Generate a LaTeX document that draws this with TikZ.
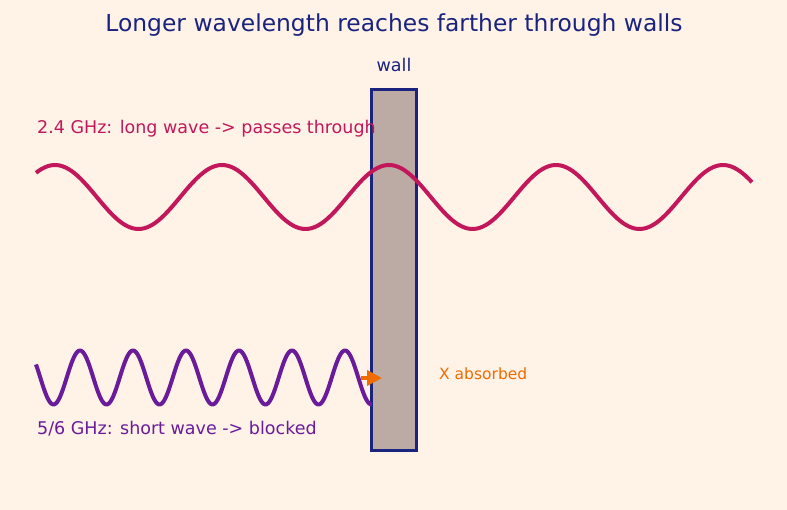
\documentclass[tikz,border=0pt]{standalone}
\usepackage{fontspec}
\setmainfont{DejaVu Sans}
\usetikzlibrary{arrows.meta}
\usetikzlibrary{positioning}
\definecolor{bgcol}{HTML}{FFF2E6}
\definecolor{navy}{HTML}{1A237E}
\definecolor{longcol}{HTML}{C2185B}
\definecolor{shortcol}{HTML}{6A1B9A}
\definecolor{absorbcol}{HTML}{EF6C00}
\definecolor{wallcol}{HTML}{BCAAA4}
\newcommand{\labsize}{\fontsize{17.5}{21}\selectfont}

\begin{document}
\begin{tikzpicture}[x=1pt,y=-1pt]
\tikzstyle{every node}=[inner sep=0pt]
\tikzstyle{wave}=[line width=4pt,line join=round]
\fill[bgcol] (0,0) rectangle (787,510);
\useasboundingbox (0,0) rectangle (787,510);
% the wall
\node[draw=navy,fill=wallcol,line width=2.4pt,minimum width=45pt,minimum height=361pt] (wall) at (394,270) {};
% the two waves
\draw[wave,longcol] plot[domain=36:752,samples=240] (\x,{197-32*cos((\x-222)/167*360)});
\draw[wave,shortcol] plot[domain=36:372,samples=240] (\x,{377.5-27*cos((\x-80)/53*360)});
\coordinate (hit) at (361,378);
\coordinate (stop) at (382,378);
\path (hit) edge [line width=4.5pt,absorbcol,arrows={-{Triangle[length=15pt,width=15pt]}}] (stop);
% texts
\node[text=navy,font=\fontsize{23.4}{28}\selectfont] (title) at (394,25) {Longer wavelength reaches farther through walls};
\node[text=navy,font=\labsize,above=16pt of wall.north] (walllab) {wall};
\node[text=longcol,font=\labsize,anchor=west] (longlab) at (37,129) {2.4 GHz: long wave -> passes through};
\node[text=shortcol,font=\labsize,anchor=west] (shortlab) at (37,429) {5/6 GHz: short wave -> blocked};
\node[text=absorbcol,font=\fontsize{15.5}{18}\selectfont,anchor=west] (absorb) at (439,374) {X absorbed};
\end{tikzpicture}
\end{document}
